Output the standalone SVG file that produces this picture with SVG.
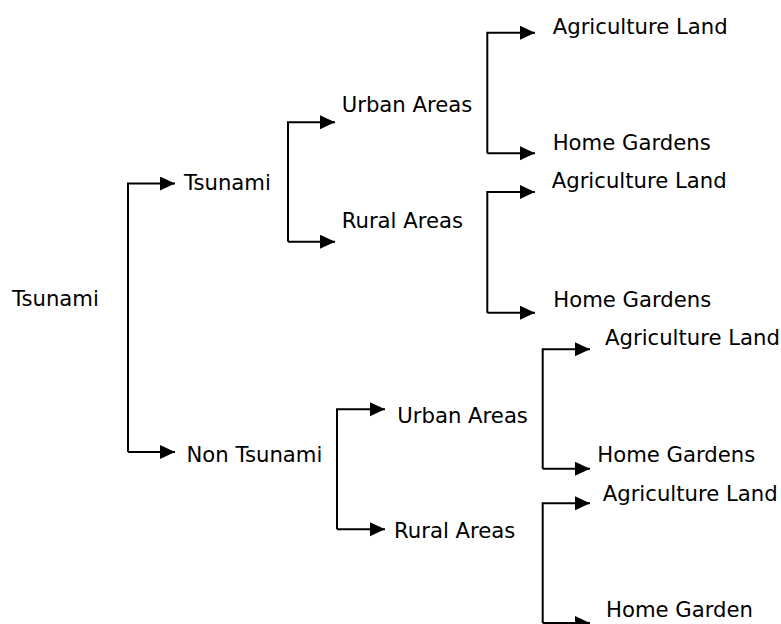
<svg xmlns="http://www.w3.org/2000/svg" width="781" height="624" viewBox="0 0 781 624">
<style>
text{font-family:"DejaVu Sans","Verdana","Liberation Sans",sans-serif;font-size:21.2px;fill:#000}
.c{fill:none;stroke:#000;stroke-width:2;marker-end:url(#ah)}
</style>
<defs>
<marker id="ah" markerUnits="userSpaceOnUse" markerWidth="16" markerHeight="15" refX="15" refY="7" orient="auto">
<path d="M0,0 L15,7 L0,14 z" fill="#000"/>
</marker>
</defs>
<rect width="781" height="624" fill="#fff"/>
<g id="connectors">
<path class="c" d="M128,452 V183.5 H175"/>
<path class="c" d="M128,452 H175"/>
<path class="c" d="M288,241.7 V122.3 H335"/>
<path class="c" d="M288,241.7 H335"/>
<path class="c" d="M487.3,153.3 V32.7 H535"/>
<path class="c" d="M487.3,153.3 H535"/>
<path class="c" d="M487.3,312.7 V192 H535"/>
<path class="c" d="M487.3,312.7 H535"/>
<path class="c" d="M337,529.3 V409.3 H385"/>
<path class="c" d="M337,529.3 H385"/>
<path class="c" d="M542.7,468.7 V349.3 H590"/>
<path class="c" d="M542.7,468.7 H590"/>
<path class="c" d="M542.7,623 V503.3 H590"/>
<path class="c" d="M542.7,623 H590"/>
</g>
<g id="root"><text x="12" y="306">Tsunami</text></g>
<g id="tsunami"><text x="184" y="190">Tsunami</text></g>
<g id="non-tsunami"><text x="186.5" y="462">Non Tsunami</text></g>
<g id="t-urban"><text x="341.7" y="111.7">Urban Areas</text></g>
<g id="t-rural"><text x="341.7" y="227.7">Rural Areas</text></g>
<g id="t-urban-agri"><text x="552.7" y="34">Agriculture Land</text></g>
<g id="t-urban-home"><text x="552.7" y="150">Home Gardens</text></g>
<g id="t-rural-agri"><text x="551.7" y="188.3">Agriculture Land</text></g>
<g id="t-rural-home"><text x="553.3" y="306.7">Home Gardens</text></g>
<g id="n-urban"><text x="397.3" y="422.7">Urban Areas</text></g>
<g id="n-rural"><text x="394" y="538.3">Rural Areas</text></g>
<g id="n-urban-agri"><text x="605" y="345">Agriculture Land</text></g>
<g id="n-urban-home"><text x="597.3" y="461.7">Home Gardens</text></g>
<g id="n-rural-agri"><text x="602.7" y="501">Agriculture Land</text></g>
<g id="n-rural-home"><text x="606" y="616.7">Home Garden</text></g>
</svg>
